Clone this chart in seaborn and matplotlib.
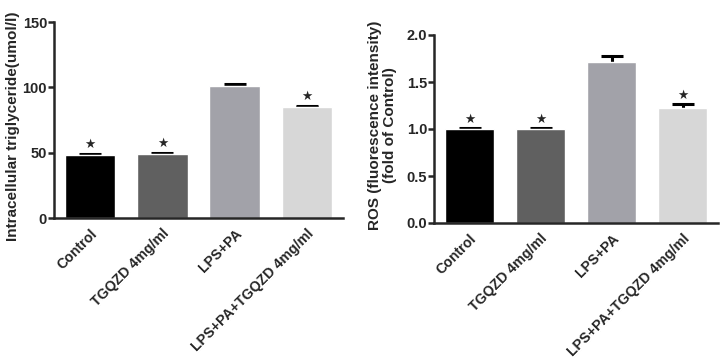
import matplotlib
matplotlib.use("Agg")
import matplotlib.pyplot as plt
import seaborn as sns
import numpy as np
import pandas as pd

groups = ["Control", "TGQZD 4mg/ml", "LPS+PA", "LPS+PA+TGQZD 4mg/ml"]
colors = ["#000000", "#606060", "#a2a2a9", "#d7d7d7"]

tg_mean = [48.2, 49.2, 101.3, 85.2]
tg_err = [0.9, 0.9, 1.0, 0.6]
tg_star = [True, True, False, True]

ros_mean = [1.00, 1.00, 1.71, 1.22]
ros_err = [0.01, 0.01, 0.07, 0.045]
ros_star = [True, True, False, True]

sns.set_style("ticks")
plt.rcParams['font.family'] = ['Liberation Sans', 'DejaVu Sans']
plt.rcParams['font.weight'] = 'bold'

fig = plt.figure(figsize=(7.2, 3.61), dpi=100)
ax1 = fig.add_axes([54 / 720, 1 - 218 / 361, 289 / 720, 196 / 361])
ax2 = fig.add_axes([434 / 720, 1 - 223 / 361, 284 / 720, 188 / 361])


def draw(ax, mean, err, star, ymax, step, ylabel, fmt, star_gap):
    df = pd.DataFrame({"group": groups, "value": mean})
    sns.barplot(data=df, x="group", y="value", hue="group", palette=colors,
                width=0.7, legend=False, ax=ax, saturation=1, zorder=2)
    x = np.arange(len(groups))
    # error bars behind the bars so only the upper half shows
    ax.errorbar(x, mean, yerr=err, fmt="none", ecolor="black",
                elinewidth=2.2, capsize=8, capthick=2.2, zorder=1)
    for i in range(len(groups)):
        if star[i]:
            ax.text(i, mean[i] + err[i] + star_gap, "\u2605", ha="center",
                    va="bottom", fontsize=9, family="DejaVu Sans")
    ax.set_xlim(-0.5, 3.5)
    ax.set_ylim(0, ymax)
    ax.set_yticks(np.arange(0, ymax + step / 2, step))
    ax.yaxis.set_major_formatter(matplotlib.ticker.FormatStrFormatter(fmt))
    ax.set_xlabel("")
    ax.set_ylabel(ylabel, fontsize=11, fontweight="bold", linespacing=1.1)
    ax.tick_params(axis="y", width=1.8, length=4, labelsize=10.5, pad=1)
    ax.tick_params(axis="x", length=0, labelsize=10.2, pad=6)
    for lbl in ax.get_xticklabels():
        lbl.set_rotation(45)
        lbl.set_ha("right")
        lbl.set_rotation_mode("anchor")
        lbl.set_fontweight("bold")
    for lbl in ax.get_yticklabels():
        lbl.set_fontweight("bold")
    for s in ["left", "bottom"]:
        ax.spines[s].set_linewidth(1.8)
    sns.despine(ax=ax)


draw(ax1, tg_mean, tg_err, tg_star, 150, 50,
     "Intracellular triglyceride(umol/l)", "%d", 2.0)
draw(ax2, ros_mean, ros_err, ros_star, 2.0, 0.5,
     "ROS (fluorescence intensity)\n(fold of Control)", "%.1f", 0.025)
ax1.yaxis.set_label_coords(-0.117, 0.47)
ax2.yaxis.set_label_coords(-0.13, 0.52)

fig.savefig("out.png", dpi=100)
